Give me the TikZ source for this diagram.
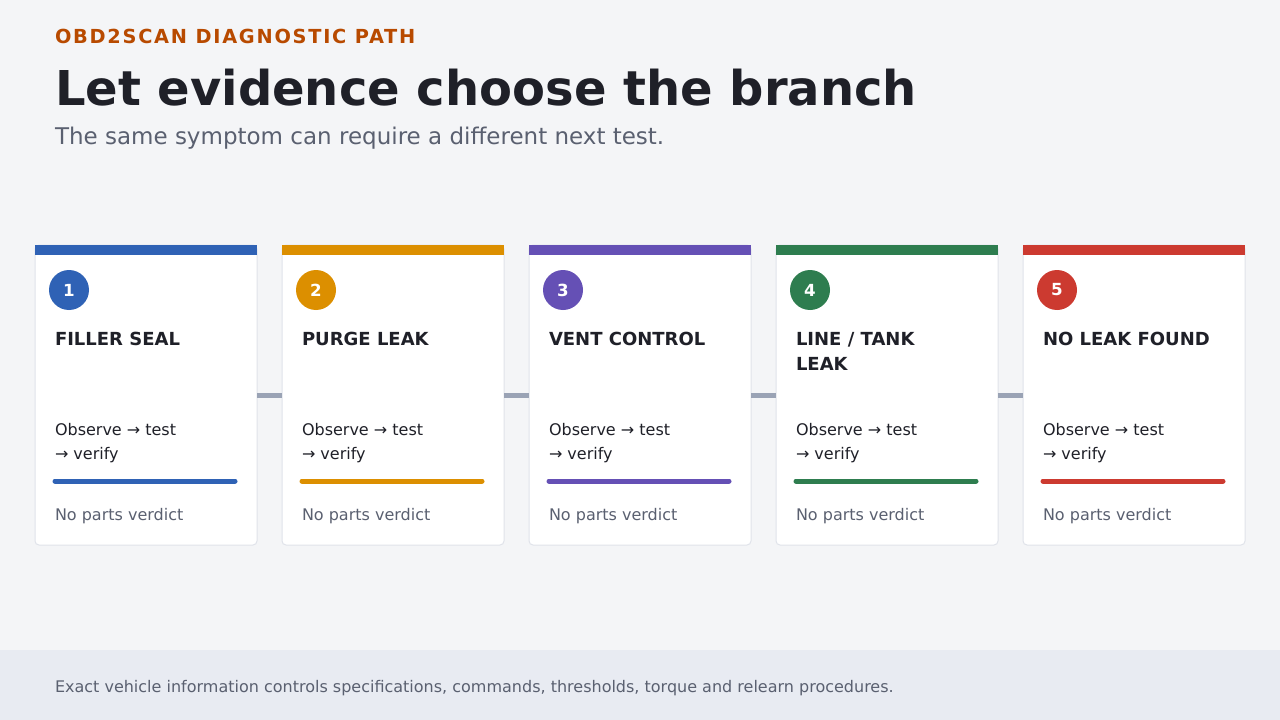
\documentclass[tikz,border=0pt]{standalone}
\usepackage{fontspec}
\setmainfont{DejaVu Sans}
\newfontfamily\dvb{DejaVu Sans}[LetterSpace=9]
\definecolor{bg}{HTML}{F4F5F7}
\definecolor{foot}{HTML}{E8EBF2}
\definecolor{ink}{HTML}{1F2028}
\definecolor{muted}{HTML}{5A6070}
\definecolor{eyebrow}{HTML}{B84A00}
\definecolor{cardline}{HTML}{E0E3EA}
\definecolor{conn}{HTML}{9AA3B5}
\definecolor{cblue}{HTML}{2F62B5}
\definecolor{corange}{HTML}{DC8F00}
\definecolor{cpurple}{HTML}{6550B5}
\definecolor{cgreen}{HTML}{2E7D4F}
\definecolor{cred}{HTML}{CC3A30}
\begin{document}
\begin{tikzpicture}[x=0.75pt,y=-0.75pt,
  txt/.style={anchor=base west,inner sep=0pt,outer sep=0pt},
  cardbox/.style={fill=white,draw=cardline,line width=0.75pt,rounded corners=3pt},
  numdot/.style={circle,minimum size=30pt,inner sep=0pt,text=white,font=\bfseries\fontsize{12.5}{15}\selectfont},
  cardtitle/.style={txt,text=ink,font=\bfseries\fontsize{13.5}{18.75}\selectfont,align=left},
  body/.style={txt,text=ink,font=\fontsize{12}{18}\selectfont,align=left},
  verdict/.style={txt,text=muted,font=\fontsize{12}{15}\selectfont},
  connector/.style={draw=conn,line width=3.75pt}]
\useasboundingbox (0,0) rectangle (1280,720);
\fill[bg] (0,0) rectangle (1280,720);
\fill[foot] (0,650) rectangle (1280,720);
\node[txt,text=eyebrow,font=\dvb\bfseries\fontsize{14.5}{16}\selectfont] (eyebrow) at (55,44) {OBD2SCAN DIAGNOSTIC PATH};
\node[txt,text=ink,font=\bfseries\fontsize{36}{40}\selectfont] (title) at (55,106) {Let evidence choose the branch};
\node[txt,text=muted,font=\fontsize{17.25}{20}\selectfont] (subtitle) at (55,145) {The same symptom can require a different next test.};
\node[txt,text=muted,font=\fontsize{12}{14}\selectfont] (footer) at (55,692) {Exact vehicle information controls specifications, commands, thresholds, torque and relearn procedures.};
\foreach \i/\x/\col/\ty/\ttl in {1/35/cblue/345/FILLER SEAL,2/282/corange/345/PURGE LEAK,3/529/cpurple/345/VENT CONTROL,4/776/cgreen/370/{LINE / TANK\\LEAK},5/1023/cred/345/NO LEAK FOUND}{
  \path[cardbox] (\x,245) rectangle ++(222,300);
  \fill[\col] (\x,245) rectangle ++(222,10);
  \coordinate (cl\i) at (\x,395);
  \coordinate (cr\i) at (\x+222,395);
  \node[numdot,fill=\col] (n\i) at (\x+34,290) {\i};
  \node[cardtitle] (t\i) at (\x+20,\ty) {\ttl};
  \node[body] (b\i) at (\x+20,459) {Observe → test\\→ verify};
  \draw[\col,line width=3.75pt,line cap=round] (\x+20,481) -- (\x+200,481);
  \node[verdict] (v\i) at (\x+20,520) {No parts verdict};
}
\foreach \a/\b in {1/2,2/3,3/4,4/5}{\draw[connector] (cr\a) -- (cl\b);}
\end{tikzpicture}
\end{document}
